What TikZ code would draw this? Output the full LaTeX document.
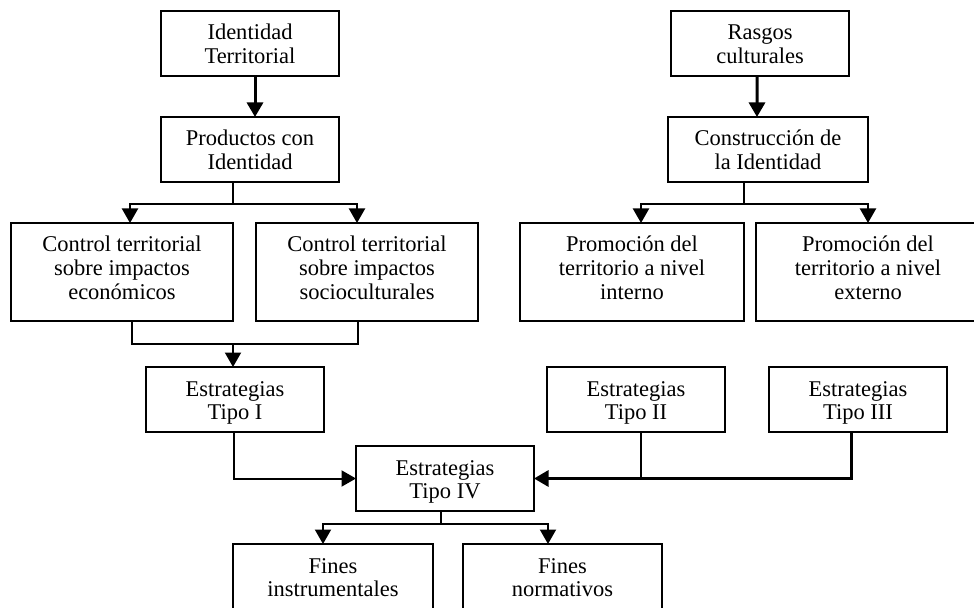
\documentclass[tikz,border=0pt]{standalone}
\usepackage{fontspec}
\setmainfont{Liberation Serif}
\usetikzlibrary{arrows.meta}
% label block: width, height, lines (top-aligned, centred)
\newcommand{\blabel}[3]{\parbox[c][#2][t]{#1}{\centering\rule{0pt}{29bp}#3}}
\begin{document}
\begin{tikzpicture}[x=1bp,y=-1bp,
  box/.style={draw, line width=2bp, inner sep=0pt, outer sep=0pt,
    font=\fontsize{22.5bp}{23.5bp}\selectfont},
  thinln/.style={line width=1.3bp},
  midln/.style={line width=2bp},
  heavyln/.style={line width=3bp},
  tip/.style={-{Triangle[length=14.5bp,width=16bp]}}]
\useasboundingbox (0,0) rectangle (974,608);

% left column
\node[box] (A) at (250,43.5)  {\blabel{178bp}{65bp}{Identidad\\Territorial}};
\node[box] (B) at (250,149.5) {\blabel{178bp}{65bp}{Productos con\\Identidad}};
\node[box] (C) at (122,272)   {\blabel{222bp}{98bp}{Control territorial\\sobre impactos\\económicos}};
\node[box] (D) at (367,272)   {\blabel{222bp}{98bp}{Control territorial\\sobre impactos\\socioculturales}};

% right column
\node[box] (E) at (760,43.5)  {\blabel{178bp}{65bp}{Rasgos\\culturales}};
\node[box] (F) at (768,149.5) {\blabel{200bp}{65bp}{Construcción de\\la Identidad}};
\node[box] (G) at (632,272)   {\blabel{224bp}{98bp}{Promoción del\\territorio a nivel\\interno}};
\node[box] (H) at (868,272)   {\blabel{224bp}{98bp}{Promoción del\\territorio a nivel\\externo}};

% strategies
\node[box] (I) at (235,399.5) {\blabel{178bp}{65bp}{Estrategias\\Tipo I}};
\node[box] (J) at (636,399.5) {\blabel{178bp}{65bp}{Estrategias\\Tipo II}};
\node[box] (K) at (858,399.5) {\blabel{178bp}{65bp}{Estrategias\\Tipo III}};
\node[box] (L) at (445,478.5) {\blabel{178bp}{65bp}{Estrategias\\Tipo IV}};

% ends
\node[box] (M) at (333,576.5) {\blabel{200bp}{65bp}{Fines\\instrumentales}};
\node[box] (N) at (562.5,576.5) {\blabel{199bp}{65bp}{Fines\\normativos}};

% left branch
\draw[heavyln,tip] ([xshift=5bp]A.south) -- ([xshift=5bp]B.north);
\draw[thinln] ([xshift=-17bp]B.south) -- ++(0,22) coordinate (bj);
\draw[midln,tip] (bj) -| ([xshift=8bp]C.north);
\draw[midln,tip] (bj) -| ([xshift=-10bp]D.north);

% right branch
\draw[heavyln,tip] ([xshift=-3bp]E.south) -- ([xshift=-11bp]F.north);
\draw[thinln] ([xshift=-24bp]F.south) -- ++(0,22) coordinate (fj);
\draw[midln,tip] (fj) -| ([xshift=9bp]G.north);
\draw[midln,tip] (fj) -| (H.north);

% merge into type I
\draw[midln] ([xshift=10bp]C.south) -- ++(0,23) coordinate (cj) -| ([xshift=-9bp]D.south);
\draw[midln,tip] ([xshift=-2bp]cj -| I.north) -- ([xshift=-2bp]I.north);

% into type IV
\draw[midln,tip] ([xshift=-1bp]I.south) |- (L.west);
\draw[thinln] ([xshift=5bp]J.south) -- ++(0,46);
\draw[heavyln,tip] ([xshift=-7bp]K.south) |- (L.east);

% type IV to ends
\draw[thinln] ([xshift=-4bp]L.south) -- ++(0,13) coordinate (lj);
\draw[midln,tip] (lj) -| ([xshift=-10bp]M.north);
\draw[midln,tip] (lj) -| ([xshift=-14.5bp]N.north);
\end{tikzpicture}
\end{document}
